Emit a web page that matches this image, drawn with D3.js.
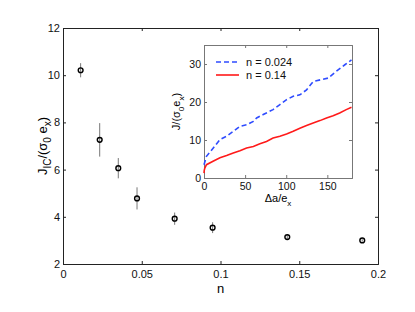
<!DOCTYPE html>
<html>
<head>
<meta charset="utf-8">
<script src="https://cdn.jsdelivr.net/npm/d3@7"></script>
<style>
  body { margin: 0; background: #fff; }
  svg { font-family: "Liberation Sans", Arial, sans-serif; }
</style>
</head>
<body>
<div id="vis"></div>
<script>
// main plot: J_IC vs n
var nVals   = [0.0112, 0.0233, 0.0351, 0.047, 0.0709, 0.095, 0.1424, 0.190];
var jicVals = [10.21, 7.26, 6.06, 4.78, 3.92, 3.54, 3.14, 3.0];
var jicErr  = [0.30, 0.71, 0.43, 0.47, 0.26, 0.23, 0.08, 0.05];
var xTicks = [0, 0.05, 0.1, 0.15, 0.2];
var xTickLabels = ["0", "0.05", "0.1", "0.15", "0.2"];
var yTicks = [2, 4, 6, 8, 10, 12];

// inset: J vs crack growth
var daBlue = [0, 3, 11.3, 19.4, 27.5, 35.6, 43.7, 51.8, 60, 64, 72, 84, 92.3, 100.4, 108.5, 116.6, 124.7, 132.8, 143, 151, 161, 171.3, 179.4];
var jBlue  = [3.5, 5.7, 7.9, 10.1, 11, 12.3, 13.6, 14, 14.9, 15.8, 16.7, 18, 19.3, 20.6, 21.5, 21.9, 23.2, 25.4, 25.9, 26.3, 28.1, 29.8, 31.1];
var daRed  = [0, 0.3, 1, 3, 11, 19.4, 27.5, 35.6, 43.7, 51.8, 60, 68, 76, 84, 92.3, 100.4, 108.5, 116.6, 124.7, 132.8, 141, 149, 157, 165, 173, 179.4];
var jRed   = [1.3, 2.0, 2.6, 3.5, 4.4, 5.3, 5.9, 6.6, 7.2, 7.9, 8.3, 9, 9.6, 10.5, 11, 11.6, 12.3, 13.1, 13.8, 14.5, 15.1, 15.8, 16.4, 17.1, 18, 18.6];
var insetXTicks = [0, 50, 100, 150];
var insetYTicks = [0, 10, 20, 30];
var legendLabels = ["n = 0.024", "n = 0.14"];

var W = 415, H = 312;
var svg = d3.select("#vis").append("svg")
    .attr("width", W).attr("height", H);

// ---- main axes ----
var m = {left: 63, right: 378, top: 28, bottom: 264};
var x = d3.scaleLinear().domain([0, 0.2]).range([m.left, m.right]);
var y = d3.scaleLinear().domain([2, 12]).range([m.bottom, m.top]);
var axCol = "#222";

svg.append("g")
    .attr("transform", "translate(0," + m.bottom + ")")
    .call(d3.axisBottom(x).tickValues(xTicks).tickSize(-3).tickPadding(6)
        .tickFormat(function (d, i) { return xTickLabels[i]; }))
    .call(styleAxis, 11, axCol);
svg.append("g")
    .attr("transform", "translate(0," + m.top + ")")
    .call(d3.axisTop(x).tickValues(xTicks).tickSize(-3).tickFormat(""))
    .call(styleAxis, 11, axCol);
svg.append("g")
    .attr("transform", "translate(" + m.left + ",0)")
    .call(d3.axisLeft(y).tickValues(yTicks).tickSize(-3).tickPadding(3))
    .call(styleAxis, 11, axCol);
svg.append("g")
    .attr("transform", "translate(" + m.right + ",0)")
    .call(d3.axisRight(y).tickValues(yTicks).tickSize(-3).tickFormat(""))
    .call(styleAxis, 11, axCol);

function styleAxis(g, fs, col) {
    g.select(".domain").attr("stroke", col).attr("stroke-width", 1);
    g.selectAll(".tick line").attr("stroke", col);
    g.selectAll(".tick text").attr("fill", "#111").style("font-size", fs + "px")
        .style("font-family", "Liberation Sans, Arial, sans-serif");
}

// error bars
svg.append("g").selectAll("line")
    .data(nVals).enter().append("line")
    .attr("x1", function (d) { return x(d); })
    .attr("x2", function (d) { return x(d); })
    .attr("y1", function (d, i) { return y(jicVals[i] + jicErr[i]); })
    .attr("y2", function (d, i) { return y(jicVals[i] - jicErr[i]); })
    .attr("stroke", "#777").attr("stroke-width", 1);

svg.append("g").selectAll("circle")
    .data(nVals).enter().append("circle")
    .attr("cx", function (d) { return x(d); })
    .attr("cy", function (d, i) { return y(jicVals[i]); })
    .attr("r", 2.4)
    .attr("fill", "none").attr("stroke", "#000").attr("stroke-width", 1.4);

// x label
svg.append("text").attr("x", (m.left + m.right) / 2).attr("y", 293)
    .attr("text-anchor", "middle").style("font-size", "13px").text("n");

// y label with subscripts
var yl = svg.append("text")
    .attr("transform", "translate(47," + ((m.top + m.bottom) / 2) + ") rotate(-90)")
    .attr("text-anchor", "middle").style("font-size", "13px");
yl.append("tspan").text("J");
yl.append("tspan").attr("dy", 4).style("font-size", "10px").text("IC");
yl.append("tspan").attr("dy", -4).text("/(σ");
yl.append("tspan").attr("dy", 4).style("font-size", "10px").text("0");
yl.append("tspan").attr("dy", -4).text(" e");
yl.append("tspan").attr("dy", 4).style("font-size", "10px").text("x");
yl.append("tspan").attr("dy", -4).text(")");

// ---- inset ----
var im = {left: 204, right: 352, top: 45, bottom: 178};
svg.append("rect").attr("x", im.left).attr("y", im.top)
    .attr("width", im.right - im.left).attr("height", im.bottom - im.top)
    .attr("fill", "#fff");
var ix = d3.scaleLinear().domain([0, 180]).range([im.left, im.right]);
var iy = d3.scaleLinear().domain([0, 35]).range([im.bottom, im.top]);
var inCol = "#777";

svg.append("g")
    .attr("transform", "translate(0," + im.bottom + ")")
    .call(d3.axisBottom(ix).tickValues(insetXTicks).tickSize(-3).tickPadding(5))
    .call(styleAxis, 10.5, inCol);
svg.append("g")
    .attr("transform", "translate(0," + im.top + ")")
    .call(d3.axisTop(ix).tickValues(insetXTicks).tickSize(-3).tickFormat(""))
    .call(styleAxis, 10.5, inCol);
svg.append("g")
    .attr("transform", "translate(" + im.left + ",0)")
    .call(d3.axisLeft(iy).tickValues(insetYTicks).tickSize(-3).tickPadding(3))
    .call(styleAxis, 10.5, inCol);
svg.append("g")
    .attr("transform", "translate(" + im.right + ",0)")
    .call(d3.axisRight(iy).tickValues(insetYTicks).tickSize(-3).tickFormat(""))
    .call(styleAxis, 10.5, inCol);

var line = d3.line()
    .x(function (d) { return ix(d[0]); })
    .y(function (d) { return iy(d[1]); });

svg.append("path")
    .datum(d3.zip(daBlue, jBlue))
    .attr("d", line).attr("fill", "none")
    .attr("stroke", "#2f4cff").attr("stroke-width", 1.6)
    .attr("stroke-dasharray", "5,3");
svg.append("path")
    .datum(d3.zip(daRed, jRed))
    .attr("d", line).attr("fill", "none")
    .attr("stroke", "#ff1a1a").attr("stroke-width", 1.6);

// legend
var leg = svg.append("g");
var legY = [62, 75];
var legStyles = [{c: "#2f4cff", dash: "5,3"}, {c: "#ff1a1a", dash: null}];
legendLabels.forEach(function (lab, i) {
    leg.append("line").attr("x1", 216).attr("x2", 239)
        .attr("y1", legY[i]).attr("y2", legY[i])
        .attr("stroke", legStyles[i].c).attr("stroke-width", 1.6)
        .attr("stroke-dasharray", legStyles[i].dash);
    leg.append("text").attr("x", 246).attr("y", legY[i] + 4)
        .style("font-size", "11px").attr("fill", "#111").text(lab);
});

// inset labels
svg.append("text").attr("x", (im.left + im.right) / 2).attr("y", 202)
    .attr("text-anchor", "middle").style("font-size", "11px")
    .call(function (t) {
        t.append("tspan").text("Δa/e");
        t.append("tspan").attr("dy", 4).style("font-size", "8px").text("x");
    });
var iyl = svg.append("text")
    .attr("transform", "translate(180," + ((im.top + im.bottom) / 2) + ") rotate(-90)")
    .attr("text-anchor", "middle").style("font-size", "11px");
iyl.append("tspan").text("J/(σ");
iyl.append("tspan").attr("dy", 4).style("font-size", "8px").text("0");
iyl.append("tspan").attr("dy", -4).text("e");
iyl.append("tspan").attr("dy", 4).style("font-size", "8px").text("x");
iyl.append("tspan").attr("dy", -4).text(")");
</script>
</body>
</html>
